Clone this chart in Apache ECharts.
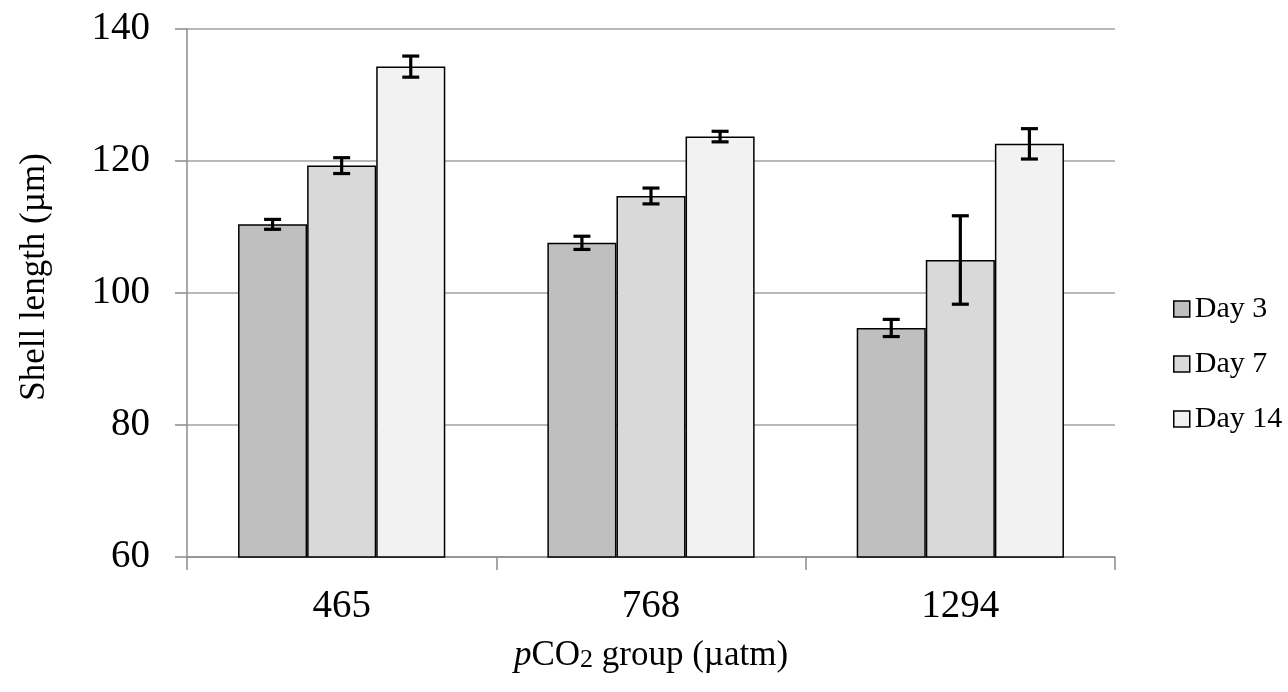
<!DOCTYPE html>
<html>
<head>
<meta charset="utf-8">
<script src="https://cdn.jsdelivr.net/npm/echarts@6/dist/echarts.min.js"></script>
<style>html,body{margin:0;padding:0;background:#fff}#c{width:1288px;height:692px}</style>
</head>
<body>
<div id="c"></div>
<script>
var categories = ['465', '768', '1294'];
var seriesNames = ['Day 3', 'Day 7', 'Day 14'];
var day3 = [110.4, 107.6, 94.7];
var day7 = [119.3, 114.7, 105.0];
var day14 = [134.3, 123.7, 122.6];
var err3 = [0.75, 1.0, 1.3];
var err7 = [1.2, 1.2, 6.7];
var err14 = [1.6, 0.8, 2.3];
var yTicks = [60, 80, 100, 120, 140];

var colors = ['#bfbfbf', '#d9d9d9', '#f2f2f2'];
var values = [day3, day7, day14];
var errs = [err3, err7, err14];
var FONT = '"Liberation Serif", "Times New Roman", serif';
var catGap = 0.33;

var chart = echarts.init(document.getElementById('c'));
var series = [];
values.forEach(function (vals, i) {
  series.push({
    name: seriesNames[i], type: 'bar', data: vals,
    barGap: '0%', barCategoryGap: (catGap * 100) + '%',
    itemStyle: { color: colors[i], borderColor: '#000', borderWidth: 1.5 },
    emphasis: { disabled: true }, z: 2
  });
});
values.forEach(function (vals, i) {
  series.push({
    type: 'custom', name: 'err' + i, z: 5,
    data: vals.map(function (v, k) { return [k, v - errs[i][k], v + errs[i][k]]; }),
    encode: { x: 0, y: [1, 2] },
    renderItem: function (params, api) {
      var k = api.value(0);
      var lo = api.coord([k, api.value(1)]);
      var hi = api.coord([k, api.value(2)]);
      var band = api.size([1, 0])[0];
      var bw = band * (1 - catGap) / 3;
      var x = lo[0] + (i - 1) * bw;
      var cap = 8.5;
      var st = { stroke: '#000', lineWidth: 3.2 };
      return { type: 'group', children: [
        { type: 'line', shape: { x1: x, y1: lo[1], x2: x, y2: hi[1] }, style: st },
        { type: 'line', shape: { x1: x - cap, y1: lo[1], x2: x + cap, y2: lo[1] }, style: st },
        { type: 'line', shape: { x1: x - cap, y1: hi[1], x2: x + cap, y2: hi[1] }, style: st }
      ]};
    }
  });
});

chart.setOption({
  animation: false,
  backgroundColor: '#fff',
  textStyle: { fontFamily: FONT },
  grid: { left: 187, right: 173, top: 29, bottom: 135, containLabel: false },
  legend: {
    data: seriesNames, orient: 'vertical', left: 1168, top: 289,
    icon: 'rect', itemWidth: 16, itemHeight: 16, itemGap: 25,
    itemStyle: { borderColor: '#000', borderWidth: 1.5 },
    textStyle: { fontFamily: FONT, fontSize: 30, lineHeight: 30, color: '#000' }
  },
  xAxis: {
    type: 'category', data: categories,
    axisLine: { lineStyle: { color: '#8c8c8c', width: 1.5 } },
    axisTick: { show: true, length: 13, lineStyle: { color: '#8c8c8c', width: 1.5 } },
    axisLabel: { fontFamily: FONT, fontSize: 39, color: '#000', margin: 30 },
    name: '{i|p}CO{s|2} group (µatm)', nameLocation: 'middle', nameGap: 77,
    nameTextStyle: {
      fontFamily: FONT, fontSize: 35, color: '#000',
      rich: {
        i: { fontFamily: FONT, fontSize: 35, fontStyle: 'italic', color: '#000' },
        s: { fontFamily: FONT, fontSize: 26, color: '#000', verticalAlign: 'bottom', padding: [16, 0, 0, 0], lineHeight: 26 }
      }
    }
  },
  yAxis: {
    type: 'value', min: yTicks[0], max: yTicks[yTicks.length - 1], interval: 20,
    axisLine: { show: true, lineStyle: { color: '#8c8c8c', width: 1.5 } },
    axisTick: { show: true, length: 12, lineStyle: { color: '#8c8c8c', width: 1.5 } },
    axisLabel: { fontFamily: FONT, fontSize: 39, color: '#000', margin: 37 },
    splitLine: { lineStyle: { color: '#a0a0a0', width: 1.5 } },
    name: 'Shell length (µm)', nameLocation: 'middle', nameGap: 135,
    nameTextStyle: { fontFamily: FONT, fontSize: 35, color: '#000', padding: [0, 0, 0, 32] }
  },
  series: series
});
</script>
</body>
</html>
